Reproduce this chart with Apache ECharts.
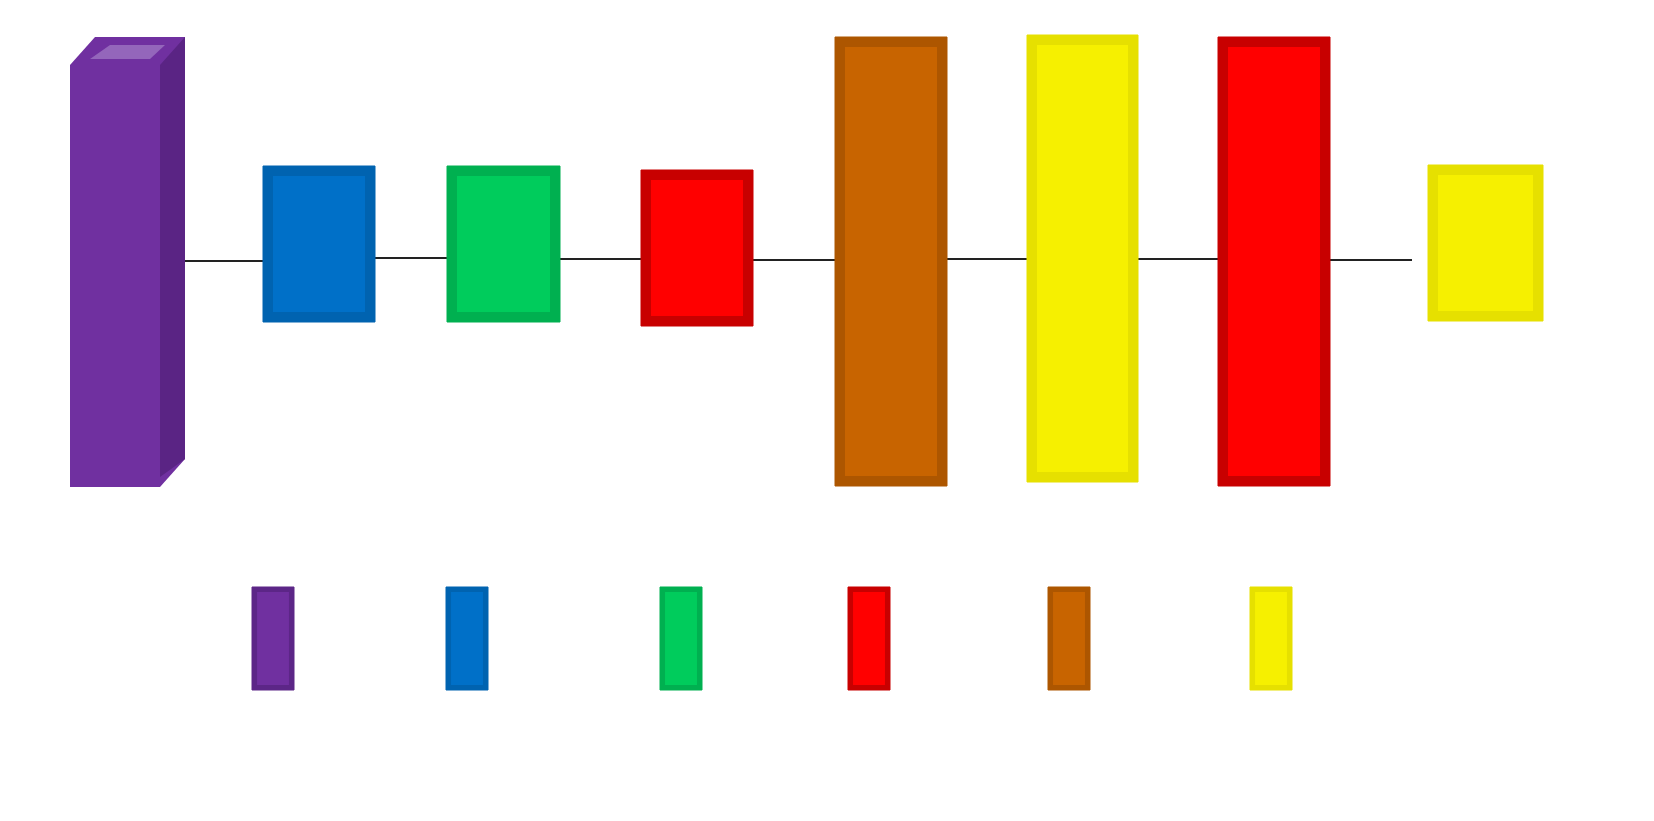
<!DOCTYPE html>
<html><head><meta charset="utf-8">
<script src="https://cdn.jsdelivr.net/npm/echarts@6/dist/echarts.min.js"></script>
<style>html,body{margin:0;background:#fff}#c{width:1654px;height:821px}</style>
</head><body><div id="c"></div>
<script>
// layer boxes: [x0, x1, y0, y1] in diagram units
const layerNames = ['Inception', 'Conv2D', 'MaxPooling2D', 'Dropout', 'Flatten', 'Dense', 'Dropout', 'Dense'];
const layerBoxes = [
  [70, 185, 37, 487], [263, 375, 166, 322], [447, 560, 166, 322], [641, 753, 170, 326],
  [835, 947, 37, 486], [1027, 1138, 35, 482], [1218, 1330, 37, 486], [1428, 1543, 165, 321]
];
const layerSizes = ['2048', '64', '64', '64', '576', '128', '128', '7'];
const sizeLabelPos = [[125, 522], [315, 362], [500, 362], [695, 367], [890, 520], [1080, 517], [1270, 520], [1465, 368]];
const links = [[180, 265, 261], [363, 450, 258], [558, 643, 259], [752, 835, 260], [943, 1027, 259], [1133, 1220, 259], [1325, 1412, 260]];
const kernels = ['299x299', '8x8', '6x6', '3x3', '3x3'];
const kernelPos = [[40, 390], [222, 312], [410, 312], [600, 312], [790, 312]];
const legendNames = ['Inception', 'Conv2D', 'MaxPooling2D', 'Dropout', 'Flatten', 'Dense'];
const legendX = [252, 446, 660, 848, 1048, 1250];
const legendLabelX = [276, 467, 683, 872, 1080, 1272];

const palette = {
  Inception: ['#7030a0', '#5c2687'], Conv2D: ['#0070c8', '#0063b0'],
  MaxPooling2D: ['#00cc5c', '#00b050'], Dropout: ['#ff0000', '#c80000'],
  Flatten: ['#c86400', '#ad5600'], Dense: ['#f6f000', '#e6e000']
};

function makeBox(names, allow3d) {
  return function (params, api) {
    const a = api.coord([api.value(0), api.value(2)]);
    const b = api.coord([api.value(1), api.value(3)]);
    const x0 = a[0], y0 = a[1], x1 = b[0], y1 = b[1];
    const name = names[params.dataIndex];
    const [fill, edge] = palette[name];
    const w = x1 - x0, h = y1 - y0;
    if (name === 'Inception' && allow3d) {
      const d = 25;
      return {type: 'group', children: [
        {type: 'polygon', shape: {points: [[x0, y0 + 28], [x0 + d, y0], [x1, y0], [x1, y1 - 28], [x1 - d, y1], [x0, y1]]}, style: {fill: fill}},
        {type: 'polygon', shape: {points: [[x1 - d, y0 + 28], [x1, y0], [x1, y1 - 28], [x1 - d, y1 - 10]]}, style: {fill: '#5a2484'}},
        {type: 'polygon', shape: {points: [[x0 + 20, y0 + 22], [x0 + d + 15, y0 + 8], [x1 - 20, y0 + 8], [x1 - 35, y0 + 22]]}, style: {fill: '#9466bb'}}
      ]};
    }
    const t = Math.min(10, w * 0.12);
    return {type: 'group', children: [
      {type: 'rect', shape: {x: x0, y: y0, width: w, height: h}, style: {fill: fill, stroke: edge, lineWidth: 1}},
      {type: 'rect', shape: {x: x0 + t / 2, y: y0 + t / 2, width: w - t, height: h - t}, style: {fill: 'none', stroke: edge, lineWidth: t}}
    ]};
  };
}

const legendData = legendX.map(x => [x, x + 42, 587, 690]);

const font = '"Open Sans", "Noto Sans", sans-serif';
const chart = echarts.init(document.getElementById('c'));
chart.setOption({
  animation: false,
  grid: {left: 0, right: 0, top: 0, bottom: 0},
  xAxis: {type: 'value', min: 0, max: 1654, show: false},
  yAxis: {type: 'value', min: 0, max: 821, inverse: true, show: false},
  series: [
    {type: 'lines', coordinateSystem: 'cartesian2d', silent: true,
      lineStyle: {color: '#222', width: 2, opacity: 1},
      data: links.map(l => ({coords: [[l[0], l[2]], [l[1], l[2]]]}))},
    {type: 'custom', renderItem: makeBox(layerNames, true), data: layerBoxes, z: 3},
    {type: 'custom', renderItem: makeBox(legendNames, false), data: legendData, z: 3},
    {type: 'scatter', symbolSize: 1, itemStyle: {opacity: 0}, data: sizeLabelPos.map((p, i) => ({value: p, name: layerSizes[i]})),
      label: {show: true, position: 'inside', formatter: '{b}', color: '#111', fontSize: 40, fontFamily: font}},
    {type: 'scatter', symbolSize: 1, itemStyle: {opacity: 0}, data: kernelPos.map((p, i) => ({value: p, name: kernels[i]})),
      label: {show: true, position: 'inside', formatter: '{b}', rotate: -90, color: '#111', fontSize: 40, fontFamily: font}},
    {type: 'scatter', symbolSize: 1, itemStyle: {opacity: 0}, data: legendLabelX.map((x, i) => ({value: [x, 722], name: legendNames[i]})),
      label: {show: true, position: 'inside', formatter: '{b}', color: '#222', fontSize: 29, fontFamily: font}}
  ]
});
</script></body></html>
